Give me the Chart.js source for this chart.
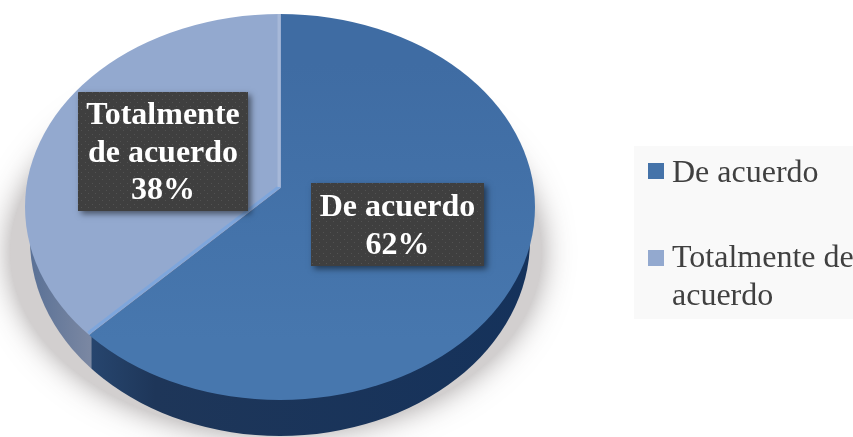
<!DOCTYPE html>
<html>
<head>
<meta charset="utf-8">
<style>
  html, body { margin: 0; padding: 0; background: #fff; }
  canvas { display: block; }
</style>
<script src="https://cdn.jsdelivr.net/npm/chart.js@4/dist/chart.umd.min.js"></script>
</head>
<body>
<canvas id="pie" width="853" height="437"></canvas>
<script>
var categories = ['De acuerdo', 'Totalmente de acuerdo'];
var values = [62, 38];
var sliceColors = ['#4573a9', '#93a9cf'];
var calloutLines = [['De acuerdo'], ['Totalmente', 'de acuerdo']];
var legendLines = [['De acuerdo'], ['Totalmente de', 'acuerdo']];

(function () {
  'use strict';

  var SERIF = '"Liberation Serif", "Times New Roman", serif';
  // top face outline, wall outline, and the squash applied to the round pie
  var face = { x: 280, y: 207, rx: 255, ry: 193 };
  var rim = { x: 280, y: 240, rx: 250, ry: 196 };
  var tilt = 0.72;
  var callouts = [
    { x: 311, y: 183, w: 173, h: 83 },
    { x: 78, y: 92, w: 170, h: 119 },
  ];
  var legendRows = [{ y: 163, base: 182 }, { y: 250, base: 267 }];

  function ellipsePath(ctx, e) {
    ctx.beginPath();
    ctx.ellipse(e.x, e.y, e.rx, e.ry, 0, 0, Math.PI * 2);
  }

  // where a slice edge starting at the apex meets the face outline
  function edgePoint(arc, angle) {
    var dx = Math.cos(angle);
    var dy = Math.sin(angle) * tilt;
    var ox = arc.x - face.x;
    var oy = arc.y - face.y;
    var a = (dx * dx) / (face.rx * face.rx) + (dy * dy) / (face.ry * face.ry);
    var b = 2 * ((ox * dx) / (face.rx * face.rx) + (oy * dy) / (face.ry * face.ry));
    var c = (ox * ox) / (face.rx * face.rx) + (oy * oy) / (face.ry * face.ry) - 1;
    var t = (-b + Math.sqrt(b * b - 4 * a * c)) / (2 * a);
    return { x: arc.x + dx * t, y: arc.y + dy * t };
  }

  function dotPattern(ctx) {
    var tile = document.createElement('canvas');
    tile.width = 7;
    tile.height = 7;
    var t = tile.getContext('2d');
    t.fillStyle = '#3f3f3f';
    t.fillRect(0, 0, 7, 7);
    t.fillStyle = '#525252';
    t.fillRect(1, 1, 1, 1);
    t.fillRect(4, 4, 1, 1);
    return ctx.createPattern(tile, 'repeat');
  }

  var pieBody = {
    id: 'pieBody',
    beforeDatasetsDraw: function (chart) {
      var ctx = chart.ctx;
      var arc = chart.getDatasetMeta(0).data[0];
      var seam = edgePoint(arc, arc.endAngle);

      ctx.save();
      ctx.shadowColor = 'rgba(70, 60, 60, 0.5)';
      ctx.shadowBlur = 30;
      ctx.fillStyle = '#d2cfcf';
      ellipsePath(ctx, { x: 276, y: 252, rx: 266, ry: 182 });
      ctx.fill();
      ctx.restore();

      var darkWall = ctx.createLinearGradient(seam.x, 0, rim.x + rim.rx, 0);
      darkWall.addColorStop(0, '#27466f');
      darkWall.addColorStop(0.15, '#1e3659');
      darkWall.addColorStop(1, '#15325b');
      var lightWall = ctx.createLinearGradient(rim.x - rim.rx, 0, seam.x, 0);
      lightWall.addColorStop(0, '#5a7196');
      lightWall.addColorStop(1, '#7a87a2');

      ctx.save();
      ctx.beginPath();
      ctx.rect(seam.x + 2, 0, chart.width, chart.height);
      ctx.clip();
      ctx.fillStyle = darkWall;
      ellipsePath(ctx, rim);
      ctx.fill();
      ctx.restore();

      ctx.save();
      ctx.beginPath();
      ctx.rect(0, 0, seam.x + 2, chart.height);
      ctx.clip();
      ctx.fillStyle = lightWall;
      ellipsePath(ctx, rim);
      ctx.fill();
      ctx.restore();
    },
    beforeDatasetDraw: function (chart) {
      var ctx = chart.ctx;
      var arc = chart.getDatasetMeta(0).data[0];
      ctx.save();
      ellipsePath(ctx, face);
      ctx.clip();
      ctx.translate(arc.x, arc.y);
      ctx.scale(1, tilt);
      ctx.translate(-arc.x, -arc.y);
    },
    afterDatasetDraw: function (chart) {
      var ctx = chart.ctx;
      ctx.restore();

      // pale bevel along both cut edges of the lighter slice
      var arc = chart.getDatasetMeta(0).data[0];
      var seam = edgePoint(arc, arc.endAngle);
      var top = edgePoint(arc, arc.startAngle);
      ctx.save();
      ellipsePath(ctx, face);
      ctx.clip();
      ctx.lineWidth = 3;
      ctx.strokeStyle = '#7ea6dc';
      ctx.beginPath();
      ctx.moveTo(arc.x - 1, arc.y - 2);
      ctx.lineTo(seam.x - 1, seam.y - 2);
      ctx.stroke();
      ctx.strokeStyle = '#a6b8d8';
      ctx.beginPath();
      ctx.moveTo(arc.x - 2, arc.y - 1);
      ctx.lineTo(top.x - 2, top.y);
      ctx.stroke();
      ctx.restore();
    },
    afterDatasetsDraw: function (chart) {
      var ctx = chart.ctx;
      var fill = dotPattern(ctx);
      values.forEach(function (v, i) {
        var box = callouts[i];
        ctx.save();
        ctx.shadowColor = 'rgba(0, 0, 0, 0.5)';
        ctx.shadowBlur = 6;
        ctx.shadowOffsetX = 3;
        ctx.shadowOffsetY = 3;
        ctx.fillStyle = '#3f3f3f';
        ctx.fillRect(box.x, box.y, box.w, box.h);
        ctx.restore();
        ctx.fillStyle = fill;
        ctx.fillRect(box.x, box.y, box.w, box.h);

        var lines = calloutLines[i].concat(v + '%');
        var lineGap = 37.5;
        var first = box.y + box.h / 2 - ((lines.length - 1) * lineGap) / 2 + 2;
        ctx.save();
        ctx.fillStyle = '#fff';
        ctx.font = 'bold 32px ' + SERIF;
        ctx.textAlign = 'center';
        ctx.textBaseline = 'middle';
        lines.forEach(function (line, n) {
          ctx.fillText(line, box.x + box.w / 2, first + n * lineGap);
        });
        ctx.restore();
      });
    },
    afterDraw: function (chart) {
      var ctx = chart.ctx;
      ctx.save();
      ctx.fillStyle = '#f9f9f9';
      ctx.fillRect(634, 146, 219, 173);
      ctx.font = '32px ' + SERIF;
      ctx.textBaseline = 'alphabetic';
      legendLines.forEach(function (lines, i) {
        var row = legendRows[i];
        ctx.fillStyle = sliceColors[i];
        ctx.fillRect(648, row.y, 16, 16);
        ctx.fillStyle = '#404040';
        lines.forEach(function (line, n) {
          ctx.fillText(line, 672, row.base + n * 38);
        });
      });
      ctx.restore();
    },
  };

  var canvas = document.getElementById('pie');
  var ctx = canvas.getContext('2d');
  var darkFill = ctx.createLinearGradient(0, 15, 0, 400);
  darkFill.addColorStop(0, '#3f6ca3');
  darkFill.addColorStop(1, '#4777ae');

  new Chart(canvas, {
    type: 'pie',
    data: {
      labels: categories,
      datasets: [
        {
          data: values,
          backgroundColor: [darkFill, sliceColors[1]],
          borderWidth: 0,
          clip: false,
        },
      ],
    },
    plugins: [pieBody],
    options: {
      responsive: false,
      animation: false,
      radius: 300,
      layout: { padding: { right: 291, bottom: 61 } },
      plugins: {
        legend: { display: false },
        tooltip: { enabled: false },
      },
    },
  });
})();
</script>
</body>
</html>
